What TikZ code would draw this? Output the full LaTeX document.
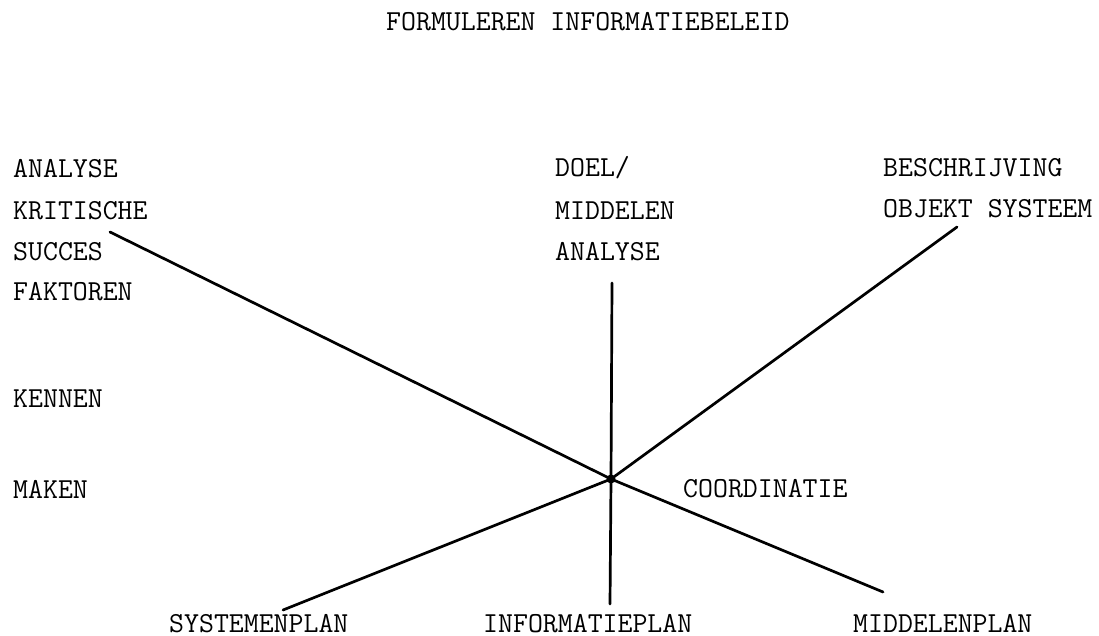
\documentclass[tikz,border=0pt]{standalone}
\usepackage{fontspec}
\begin{document}
\begin{tikzpicture}[x=1pt,y=-1pt,
  lbl/.style={anchor=base west,inner sep=0pt,font=\ttfamily\fontsize{29}{34}\selectfont},
  foot/.style={lbl,text depth=0pt},
  spoke/.style={line width=2.7pt,line cap=round}]
\useasboundingbox (0,0) rectangle (1099,636);

% heading
\node[lbl] (title) at (386,31) {FORMULEREN INFORMATIEBELEID};

% left column
\node[lbl] (l1) at (13,178) {ANALYSE};
\node[lbl] (l2) at (13,219) {KRITISCHE};
\node[lbl] (l3) at (13,260) {SUCCES};
\node[lbl] (l4) at (13,300) {FAKTOREN};
\node[lbl] (kennen) at (13,407) {KENNEN};
\node[lbl] (maken) at (13,498) {MAKEN};

% middle column
\node[lbl] (m1) at (555,177) {DOEL/};
\node[lbl] (m2) at (555,219) {MIDDELEN};
\node[lbl] (m3) at (555,260) {ANALYSE};

% right column
\node[lbl] (r1) at (883,177) {BESCHRIJVING};
\node[lbl] (r2) at (883,218) {OBJEKT SYSTEEM};

\node[lbl] (coord) at (683,497) {COORDINATIE};

% plans along the bottom
\node[foot] (sys) at (169,632) {SYSTEMENPLAN};
\node[foot] (inf) at (483,632) {INFORMATIEPLAN};
\node[foot] (mid) at (853,632) {MIDDELENPLAN};

% the star of spokes
\coordinate (hub) at (611,479);
\coordinate (pKSF) at (110,232);
\coordinate (pDMA) at (612,283);
\coordinate (pOBJ) at (957,227);
\coordinate (pSYS) at (283,610);
\coordinate (pINF) at (610,604);
\coordinate (pMID) at (883,592);

\draw[spoke] (hub) -- (pKSF);
\draw[spoke] (hub) -- (pDMA);
\draw[spoke] (hub) -- (pOBJ);
\draw[spoke] (hub) -- (pSYS);
\draw[spoke] (hub) -- (pINF);
\draw[spoke] (hub) -- (pMID);
\fill (hub) circle (4.5pt);
\end{tikzpicture}
\end{document}
